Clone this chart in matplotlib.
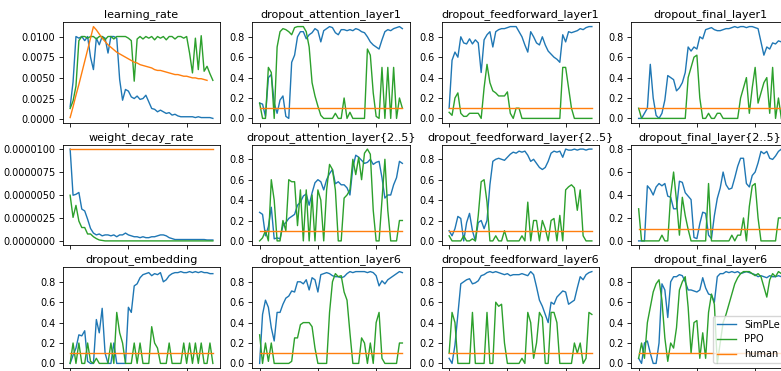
import numpy as np
import matplotlib
matplotlib.use("Agg")
import matplotlib.pyplot as plt
from matplotlib.ticker import MultipleLocator, FormatStrFormatter

# training steps (x axis), one value every 5 steps
steps = np.arange(50) * 5
human_steps = np.arange(48) * 5

# learning_rate
lr_simple = [0.0015, 0.0045, 0.0100, 0.0098, 0.0100, 0.0095, 0.0100, 0.0075, 0.0060, 0.0098,
             0.0090, 0.0100, 0.0098, 0.0080, 0.0100, 0.0100, 0.0098, 0.0048, 0.0023, 0.0036,
             0.0034, 0.0027, 0.0025, 0.0028, 0.0024, 0.0025, 0.0029, 0.0021, 0.0013, 0.0012,
             0.0009, 0.0011, 0.0009, 0.0007, 0.0008, 0.0005, 0.0006, 0.0004, 0.0003, 0.0003,
             0.0003, 0.0003, 0.0003, 0.0002, 0.0003, 0.0002, 0.0002, 0.0002, 0.0002, 0.0001]
lr_ppo = [0.0013, 0.0022, 0.0040, 0.0095, 0.0100, 0.0100, 0.0098, 0.0100, 0.0100, 0.0097,
          0.0100, 0.0100, 0.0096, 0.0100, 0.0100, 0.0097, 0.0100, 0.0100, 0.0100, 0.0100,
          0.0098, 0.0095, 0.0046, 0.0097, 0.0100, 0.0097, 0.0100, 0.0098, 0.0100, 0.0096,
          0.0100, 0.0098, 0.0100, 0.0096, 0.0100, 0.0100, 0.0097, 0.0100, 0.0100, 0.0098,
          0.0100, 0.0080, 0.0056, 0.0098, 0.0060, 0.0101, 0.0058, 0.0064, 0.0055, 0.0047]
lr_human = [0.0002, 0.0015, 0.0029, 0.0042, 0.0056, 0.0070, 0.0084, 0.0098, 0.0112, 0.0108,
            0.0103, 0.0098, 0.0094, 0.0090, 0.0087, 0.0084, 0.0081, 0.0079, 0.0077, 0.0075,
            0.0073, 0.0071, 0.0069, 0.0068, 0.0066, 0.0065, 0.0064, 0.0063, 0.0062, 0.0060,
            0.0059, 0.0059, 0.0058, 0.0057, 0.0056, 0.0055, 0.0054, 0.0054, 0.0053, 0.0052,
            0.0052, 0.0051, 0.0050, 0.0050, 0.0049, 0.0049, 0.0048, 0.0047]

# weight_decay_rate (in units of 1e-6)
wd_simple = [10.0, 5.0, 5.1, 5.3, 3.5, 3.3, 2.4, 1.4, 0.9, 0.7,
             0.8, 0.6, 0.7, 0.7, 0.6, 0.7, 0.5, 0.7, 0.7, 0.9,
             0.7, 0.6, 0.5, 0.5, 0.4, 0.5, 0.4, 0.4, 0.5, 0.5,
             0.6, 0.7, 0.7, 0.6, 0.4, 0.3, 0.2, 0.2, 0.2, 0.2,
             0.2, 0.2, 0.2, 0.2, 0.2, 0.2, 0.2, 0.15, 0.15, 0.15]
wd_ppo = [5.0, 2.6, 3.9, 2.2, 1.5, 1.5, 0.8, 0.8, 0.5, 0.3,
          0.15, 0.1, 0.05, 0.05, 0.05, 0.05, 0.05, 0.05, 0.05, 0.05,
          0.05, 0.05, 0.05, 0.05, 0.05, 0.05, 0.05, 0.05, 0.05, 0.05,
          0.05, 0.05, 0.05, 0.05, 0.05, 0.05, 0.05, 0.05, 0.05, 0.05,
          0.05, 0.05, 0.05, 0.05, 0.05, 0.05, 0.05, 0.05, 0.05, 0.05]
wd_human = 10.0

# dropout_embedding
emb_simple = [0.0, 0.08, 0.15, 0.28, 0.27, 0.32, 0.02, 0.0, 0.0, 0.43,
              0.30, 0.54, 0.10, 0.0, 0.0, 0.20, 0.0, 0.0, 0.0, 0.0,
              0.55, 0.50, 0.76, 0.78, 0.84, 0.87, 0.88, 0.89, 0.86, 0.88,
              0.87, 0.89, 0.80, 0.82, 0.86, 0.88, 0.89, 0.89, 0.90, 0.89,
              0.89, 0.90, 0.89, 0.90, 0.89, 0.90, 0.89, 0.89, 0.88, 0.88]
emb_ppo = [0.0, 0.2, 0.0, 0.2, 0.0, 0.0, 0.2, 0.02, 0.0, 0.05,
           0.0, 0.0, 0.0, 0.0, 0.2, 0.0, 0.5, 0.3, 0.2, 0.0,
           0.0, 0.0, 0.2, 0.0, 0.2, 0.0, 0.0, 0.0, 0.36, 0.2,
           0.15, 0.0, 0.0, 0.0, 0.2, 0.0, 0.0, 0.0, 0.0, 0.2,
           0.0, 0.2, 0.0, 0.2, 0.0, 0.2, 0.0, 0.0, 0.2, 0.0]

# dropout_attention_layer1
att1_simple = [0.15, 0.14, 0.02, 0.40, 0.43, 0.15, 0.05, 0.18, 0.22, 0.02,
               0.0, 0.55, 0.62, 0.80, 0.85, 0.85, 0.78, 0.82, 0.84, 0.88,
               0.86, 0.75, 0.86, 0.88, 0.90, 0.89, 0.84, 0.82, 0.87, 0.87,
               0.86, 0.87, 0.86, 0.88, 0.87, 0.85, 0.84, 0.80, 0.75, 0.72,
               0.70, 0.68, 0.77, 0.85, 0.87, 0.86, 0.88, 0.89, 0.90, 0.88]
att1_ppo = [0.15, 0.0, 0.0, 0.50, 0.45, 0.0, 0.70, 0.85, 0.88, 0.87,
            0.85, 0.82, 0.89, 0.90, 0.90, 0.90, 0.85, 0.70, 0.35, 0.22,
            0.12, 0.03, 0.0, 0.0, 0.0, 0.0, 0.05, 0.0, 0.0, 0.20,
            0.0, 0.06, 0.0, 0.0, 0.0, 0.0, 0.0, 0.68, 0.62, 0.25,
            0.02, 0.0, 0.50, 0.0, 0.50, 0.0, 0.50, 0.0, 0.20, 0.10]

# dropout_feedforward_layer1
ff1_simple = [0.10, 0.57, 0.65, 0.60, 0.80, 0.74, 0.73, 0.78, 0.73, 0.77,
              0.74, 0.45, 0.77, 0.82, 0.85, 0.70, 0.85, 0.87, 0.88, 0.88,
              0.89, 0.90, 0.90, 0.90, 0.85, 0.80, 0.72, 0.65, 0.85, 0.80,
              0.74, 0.72, 0.80, 0.72, 0.66, 0.63, 0.60, 0.58, 0.55, 0.82,
              0.75, 0.85, 0.84, 0.85, 0.86, 0.88, 0.87, 0.89, 0.90, 0.90]
ff1_ppo = [0.06, 0.03, 0.20, 0.25, 0.05, 0.02, 0.02, 0.05, 0.05, 0.05,
           0.05, 0.0, 0.30, 0.53, 0.35, 0.27, 0.25, 0.22, 0.22, 0.22,
           0.26, 0.05, 0.0, 0.10, 0.10, 0.0, 0.0, 0.0, 0.0, 0.0,
           0.0, 0.0, 0.0, 0.0, 0.0, 0.0, 0.0, 0.0, 0.0, 0.50,
           0.50, 0.30, 0.10, 0.0, 0.0, 0.0, 0.0, 0.0, 0.0, 0.0]

# dropout_final_layer1
fin1_simple = [0.0, 0.0, 0.05, 0.10, 0.53, 0.20, 0.03, 0.0, 0.05, 0.18,
               0.42, 0.40, 0.38, 0.27, 0.30, 0.35, 0.45, 0.70, 0.66, 0.70,
               0.68, 0.80, 0.78, 0.87, 0.88, 0.89, 0.87, 0.86, 0.86, 0.87,
               0.88, 0.88, 0.89, 0.90, 0.89, 0.90, 0.90, 0.89, 0.90, 0.90,
               0.89, 0.88, 0.75, 0.62, 0.70, 0.68, 0.74, 0.73, 0.76, 0.75]
fin1_ppo = [0.10, 0.0, 0.0, 0.0, 0.0, 0.0, 0.0, 0.0, 0.0, 0.0,
            0.0, 0.0, 0.0, 0.0, 0.0, 0.0, 0.0, 0.40, 0.50, 0.60,
            0.62, 0.20, 0.0, 0.0, 0.05, 0.0, 0.0, 0.05, 0.05, 0.0,
            0.0, 0.0, 0.0, 0.0, 0.0, 0.20, 0.30, 0.40, 0.05, 0.30,
            0.50, 0.15, 0.25, 0.35, 0.40, 0.05, 0.50, 0.0, 0.20, 0.0]

# dropout_attention_layer{2..5}
att25_simple = [0.28, 0.26, 0.05, 0.14, 0.33, 0.02, 0.03, 0.02, 0.15, 0.18,
                0.22, 0.24, 0.26, 0.35, 0.38, 0.44, 0.46, 0.35, 0.47, 0.57,
                0.60, 0.58, 0.50, 0.60, 0.66, 0.70, 0.56, 0.58, 0.55, 0.55,
                0.52, 0.45, 0.72, 0.84, 0.82, 0.79, 0.76, 0.77, 0.80, 0.75,
                0.77, 0.78, 0.62, 0.42, 0.45, 0.45, 0.55, 0.62, 0.78, 0.76]
att25_ppo = [0.0, 0.03, 0.10, 0.0, 0.60, 0.40, 0.0, 0.0, 0.20, 0.10,
             0.60, 0.58, 0.58, 0.15, 0.50, 0.0, 0.50, 0.0, 0.45, 0.0,
             0.50, 0.40, 0.0, 0.50, 0.75, 0.70, 0.50, 0.0, 0.0, 0.42,
             0.45, 0.50, 0.80, 0.65, 0.82, 0.60, 0.86, 0.90, 0.85, 0.30,
             0.0, 0.0, 0.40, 0.80, 0.30, 0.0, 0.0, 0.0, 0.20, 0.20]

# dropout_feedforward_layer{2..5}
ff25_simple = [0.10, 0.05, 0.12, 0.24, 0.22, 0.0, 0.18, 0.27, 0.10, 0.0,
               0.18, 0.20, 0.12, 0.20, 0.55, 0.78, 0.80, 0.81, 0.80, 0.79,
               0.82, 0.85, 0.87, 0.86, 0.88, 0.87, 0.88, 0.84, 0.78, 0.80,
               0.76, 0.72, 0.70, 0.72, 0.78, 0.86, 0.88, 0.87, 0.88, 0.82,
               0.90, 0.89, 0.89, 0.90, 0.89, 0.90, 0.90, 0.89, 0.90, 0.90]
ff25_ppo = [0.05, 0.0, 0.0, 0.0, 0.0, 0.05, 0.0, 0.0, 0.02, 0.0,
            0.25, 0.58, 0.60, 0.38, 0.0, 0.0, 0.05, 0.0, 0.0, 0.10,
            0.0, 0.0, 0.0, 0.0, 0.0, 0.05, 0.0, 0.38, 0.0, 0.20,
            0.20, 0.0, 0.20, 0.12, 0.0, 0.20, 0.22, 0.0, 0.25, 0.0,
            0.50, 0.53, 0.55, 0.52, 0.30, 0.50, 0.05, 0.0, 0.0, 0.0]

# dropout_final_layer{2..5}
fin25_simple = [0.0, 0.0, 0.0, 0.48, 0.45, 0.40, 0.47, 0.50, 0.48, 0.50,
                0.39, 0.38, 0.28, 0.28, 0.52, 0.51, 0.42, 0.39, 0.36, 0.03,
                0.02, 0.15, 0.25, 0.24, 0.05, 0.02, 0.22, 0.37, 0.46, 0.60,
                0.49, 0.45, 0.46, 0.55, 0.65, 0.72, 0.72, 0.50, 0.47, 0.57,
                0.60, 0.68, 0.78, 0.76, 0.78, 0.72, 0.71, 0.74, 0.78, 0.80]
fin25_ppo = [0.28, 0.0, 0.0, 0.0, 0.0, 0.0, 0.0, 0.0, 0.05, 0.0,
             0.0, 0.40, 0.60, 0.35, 0.05, 0.38, 0.22, 0.10, 0.0, 0.0,
             0.0, 0.0, 0.0, 0.0, 0.50, 0.0, 0.0, 0.0, 0.0, 0.0,
             0.0, 0.0, 0.05, 0.0, 0.05, 0.05, 0.20, 0.0, 0.30, 0.48,
             0.50, 0.20, 0.0, 0.0, 0.0, 0.0, 0.0, 0.0, 0.20, 0.20]

# dropout_attention_layer6
att6_simple = [0.0, 0.48, 0.62, 0.55, 0.35, 0.22, 0.50, 0.50, 0.58, 0.64,
               0.66, 0.71, 0.70, 0.80, 0.80, 0.78, 0.82, 0.72, 0.84, 0.82,
               0.70, 0.87, 0.88, 0.89, 0.88, 0.86, 0.85, 0.85, 0.84, 0.85,
               0.88, 0.90, 0.89, 0.90, 0.90, 0.90, 0.90, 0.89, 0.90, 0.89,
               0.86, 0.76, 0.81, 0.78, 0.82, 0.84, 0.86, 0.88, 0.90, 0.89]
att6_ppo = [0.28, 0.0, 0.20, 0.02, 0.20, 0.0, 0.0, 0.0, 0.0, 0.0,
            0.0, 0.02, 0.25, 0.25, 0.38, 0.40, 0.40, 0.40, 0.36, 0.15,
            0.0, 0.0, 0.0, 0.0, 0.50, 0.80, 0.88, 0.85, 0.86, 0.70,
            0.62, 0.30, 0.0, 0.0, 0.0, 0.25, 0.20, 0.0, 0.20, 0.0,
            0.40, 0.50, 0.05, 0.0, 0.0, 0.0, 0.0, 0.0, 0.20, 0.20]

# dropout_feedforward_layer6
ff6_simple = [0.05, 0.0, 0.18, 0.48, 0.78, 0.80, 0.82, 0.83, 0.78, 0.79,
              0.81, 0.86, 0.87, 0.89, 0.90, 0.89, 0.90, 0.89, 0.88, 0.87,
              0.88, 0.86, 0.87, 0.87, 0.87, 0.88, 0.87, 0.86, 0.90, 0.87,
              0.75, 0.62, 0.56, 0.48, 0.40, 0.60, 0.58, 0.65, 0.68, 0.71,
              0.70, 0.58, 0.60, 0.62, 0.74, 0.85, 0.82, 0.87, 0.89, 0.90]
ff6_ppo = [0.10, 0.50, 0.40, 0.0, 0.0, 0.0, 0.0, 0.0, 0.50, 0.0,
           0.0, 0.0, 0.0, 0.50, 0.0, 0.0, 0.60, 0.56, 0.58, 0.20,
           0.0, 0.0, 0.0, 0.0, 0.0, 0.05, 0.0, 0.50, 0.40, 0.05,
           0.20, 0.50, 0.45, 0.0, 0.0, 0.50, 0.50, 0.40, 0.0, 0.0,
           0.0, 0.0, 0.0, 0.20, 0.10, 0.20, 0.0, 0.05, 0.50, 0.48]

# dropout_final_layer6
fin6_simple = [0.05, 0.0, 0.20, 0.22, 0.10, 0.0, 0.0, 0.20, 0.78, 0.72,
               0.45, 0.80, 0.85, 0.85, 0.87, 0.86, 0.80, 0.72, 0.72, 0.71,
               0.70, 0.72, 0.84, 0.74, 0.68, 0.67, 0.60, 0.85, 0.88, 0.88,
               0.90, 0.89, 0.90, 0.89, 0.90, 0.88, 0.89, 0.90, 0.89, 0.88,
               0.87, 0.85, 0.86, 0.85, 0.84, 0.86, 0.85, 0.85, 0.86, 0.85]
fin6_ppo = [0.05, 0.20, 0.05, 0.40, 0.55, 0.70, 0.78, 0.82, 0.62, 0.25,
            0.02, 0.20, 0.15, 0.35, 0.72, 0.80, 0.85, 0.55, 0.10, 0.40,
            0.42, 0.05, 0.30, 0.05, 0.50, 0.68, 0.58, 0.0, 0.20, 0.40,
            0.48, 0.58, 0.68, 0.78, 0.84, 0.88, 0.90, 0.90, 0.90, 0.88,
            0.86, 0.88, 0.85, 0.75, 0.65, 0.82, 0.88, 0.85, 0.90, 0.88]

# human setting for every dropout
human_dropout = 0.1

panels = [
    ("learning_rate", lr_simple, lr_ppo),
    ("dropout_attention_layer1", att1_simple, att1_ppo),
    ("dropout_feedforward_layer1", ff1_simple, ff1_ppo),
    ("dropout_final_layer1", fin1_simple, fin1_ppo),
    ("weight_decay_rate", wd_simple, wd_ppo),
    ("dropout_attention_layer{2..5}", att25_simple, att25_ppo),
    ("dropout_feedforward_layer{2..5}", ff25_simple, ff25_ppo),
    ("dropout_final_layer{2..5}", fin25_simple, fin25_ppo),
    ("dropout_embedding", emb_simple, emb_ppo),
    ("dropout_attention_layer6", att6_simple, att6_ppo),
    ("dropout_feedforward_layer6", ff6_simple, ff6_ppo),
    ("dropout_final_layer6", fin6_simple, fin6_ppo),
]

blue, green, orange = "#1f77b4", "#2ca02c", "#ff7f0e"

fig, axes = plt.subplots(3, 4, figsize=(7.81, 3.71), dpi=100, sharex=True)
fig.subplots_adjust(left=63 / 781, right=788.5 / 781, top=1 - 22 / 371,
                    bottom=1 - 368 / 371, wspace=0.207, hspace=0.213)

for ax, (name, simple, ppo) in zip(axes.flat, panels):
    simple = np.array(simple, dtype=float)
    ppo = np.array(ppo, dtype=float)
    if name == "learning_rate":
        human_x, human = human_steps, np.array(lr_human)
    elif name == "weight_decay_rate":
        simple, ppo = simple * 1e-6, ppo * 1e-6
        human_x, human = steps, np.full(len(steps), wd_human * 1e-6)
    else:
        human_x, human = steps, np.full(len(steps), human_dropout)

    ax.plot(steps, simple, color=blue, lw=1.0, label="SimPLe")
    ax.plot(steps, ppo, color=green, lw=1.0, label="PPO")
    ax.plot(human_x, human, color=orange, lw=1.0, label="human")

    ax.set_title(name, fontsize=8.0, pad=3.5)
    ax.xaxis.set_major_locator(MultipleLocator(100))
    # x labels are below the picture edge in the reference, only the ticks show
    ax.tick_params(axis="x", labelbottom=False, length=3, width=0.6)
    ax.tick_params(axis="y", labelsize=7, length=3, width=0.6, pad=2.5)
    for s in ax.spines.values():
        s.set_linewidth(0.6)

    if name == "weight_decay_rate":
        ax.yaxis.set_major_locator(MultipleLocator(2.5e-6))
        ax.yaxis.set_major_formatter(FormatStrFormatter("%.7f"))
    elif name != "learning_rate":
        ax.yaxis.set_major_locator(MultipleLocator(0.2))
        ax.yaxis.set_major_formatter(FormatStrFormatter("%.1f"))

axes[2, 3].legend(loc="lower right", fontsize=7, handlelength=2.0,
                  borderpad=0.4, labelspacing=0.5, framealpha=0.8)

fig.savefig("out.png", dpi=100)
